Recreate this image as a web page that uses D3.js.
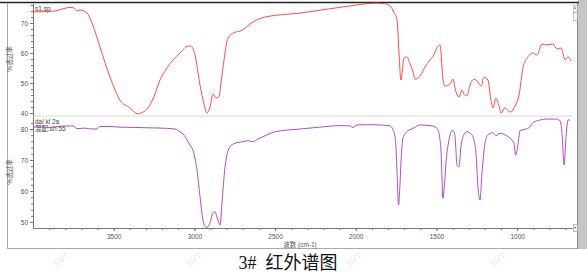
<!DOCTYPE html>
<html>
<head>
<meta charset="utf-8">
<script src="https://cdn.jsdelivr.net/npm/d3@7"></script>
<style>
	body { margin: 0; background: #fff; }
	svg text { font-family: "Liberation Sans", "Noto Sans CJK SC", sans-serif; }
</style>
</head>
<body>
<div id="graph"></div>
<script>

// top spectrum (sample s1.sp), wavenumber cm-1 / %T
const redWn = [4000, 3926, 3864, 3771, 3746, 3727, 3709, 3665, 3628, 3585, 3523, 3461, 3399, 3349, 3318, 3287,
	3250, 3213, 3176, 3132, 3089, 3040, 3021, 2996, 2965, 2940, 2922, 2903, 2885, 2866, 2847, 2835, 2816, 2792,
	2754, 2717, 2686, 2655, 2606, 2562, 2345, 2036, 1881, 1819, 1788, 1763, 1744, 1732, 1720, 1701, 1683, 1664,
	1645, 1633, 1602, 1571, 1540, 1515, 1497, 1478, 1459, 1447, 1416, 1398, 1379, 1360, 1342, 1330, 1311, 1292,
	1267, 1243, 1224, 1205, 1181, 1162, 1150, 1131, 1112, 1100, 1075, 1044, 1026, 1007, 988, 964, 933, 902, 877,
	846, 815, 778, 753, 728, 703, 685, 666]
const redT = [73.7, 73.8, 74.0, 75.2, 75.0, 74.0, 74.3, 73.3, 69, 62, 52, 44.3, 41.7, 39.7, 40.3, 41.7,
	45.5, 51, 54.5, 57.7, 60, 62.3, 62.3, 59.3, 49.3, 43, 40, 42, 46.3, 45, 45.5, 50, 57.7, 65,
	66.8, 67.3, 68.3, 69.7, 71.2, 72, 73.3, 75.7, 76.6, 76.4, 75.7, 73.5, 71, 60, 51, 58.3, 58.7, 56.5,
	53.7, 51.3, 52.3, 55.3, 57.7, 59.5, 61.7, 62.7, 51, 49, 49.7, 51.3, 47, 45.3, 47.7, 46.3, 45.7, 49.3,
	51.3, 50.3, 49, 52, 51, 44.3, 41.7, 45, 42.3, 40, 41.7, 40.3, 41, 43, 46, 55, 58.7, 60, 59.3,
	63, 62.7, 63, 61.3, 61.7, 57.7, 58.7, 57.3]

// bottom spectrum (reference), wavenumber cm-1 / %T
const purpleWn = [4000, 3895, 3833, 3752, 3727, 3678, 3634, 3603, 3585, 3523, 3461, 3368, 3294, 3213, 3120,
	3089, 3064, 3046, 3027, 3009, 2984, 2965, 2947, 2934, 2922, 2903, 2885, 2872, 2860, 2847, 2841, 2829, 2810,
	2779, 2748, 2699, 2668, 2637, 2606, 2575, 2500, 2345, 2222, 2098, 2036, 2017, 1992, 1912, 1850, 1788, 1769,
	1757, 1750, 1744, 1735, 1726, 1720, 1707, 1683, 1645, 1602, 1540, 1509, 1490, 1478, 1472, 1466, 1460, 1450,
	1441, 1422, 1404, 1391, 1385, 1379, 1373, 1360, 1348, 1330, 1311, 1293, 1274, 1255, 1243, 1230, 1218, 1199,
	1181, 1150, 1131, 1106, 1075, 1044, 1019, 1010, 995, 982, 951, 920, 902, 858, 815, 765, 734, 722, 709, 697,
	685, 672]
const purpleT = [80.7, 80.5, 80.9, 81.0, 80.1, 80.3, 80.0, 80.0, 80.8, 80.8, 80.6, 80.5, 80.4, 80.3, 80.0,
	79.1, 78.0, 76.5, 74.8, 73.2, 66.8, 58.2, 50.6, 48.6, 48.2, 49.7, 52.9, 53.3, 51.5, 49.5, 49, 56.1, 67.8,
	74.3, 75.4, 75.9, 76.2, 75.9, 76.8, 77.5, 79.1, 80.0, 80.6, 81.1, 81.0, 80.5, 81.3, 81.4, 81.3, 81.0, 79.7,
	77.5, 73.2, 66, 55.5, 62, 69, 77.1, 79.1, 80.2, 81.3, 81.1, 80.7, 79.7, 76.5, 73.2, 65, 57.6, 62,
	69, 76.5, 79.5, 79.2, 77.5, 73, 68.4, 67.8, 74.3, 78.1, 79.1, 78.7, 77.5, 72.2, 61.4, 57.1, 65.7, 75.4,
	78.1, 78.8, 77.8, 78.6, 78.1, 77.0, 75.4, 71.6, 74.8, 79.5, 79.9, 80.7, 82.0, 82.9, 83.2, 83.2, 82.7, 78.6, 68.4, 77.5,
	82.9, 82.9]

const xTicks = [3500, 3000, 2500, 2000, 1500, 1000]
const topTicks = [40, 50, 60, 70]
const bottomTicks = [50, 60, 70, 80]

const width = 587
	, height = 272
	, left = 33
	, right = 572

let svg = d3.select('#graph').append('svg')
	.attr('width', width)
	.attr('height', height)

let x = d3.scaleLinear().domain([4000, 660]).range([left, right])
	, yTop = d3.scaleLinear().domain([39, 76.67]).range([116, 3])
	, yBot = d3.scaleLinear().domain([48.06, 83.87]).range([228, 117])

// frame
svg.append('rect').attr('x', 578).attr('y', 0).attr('width', 9).attr('height', 249).attr('fill', '#c6c6c6')
svg.append('line').attr('x1', 0).attr('x2', 579).attr('y1', 2.5).attr('y2', 2.5)
	.attr('stroke', '#222').attr('stroke-width', 1.6)
svg.append('line').attr('x1', 7.5).attr('x2', 7.5).attr('y1', 3).attr('y2', 249)
	.attr('stroke', '#aaa')
svg.append('line').attr('x1', 7).attr('x2', 578).attr('y1', 248.5).attr('y2', 248.5)
	.attr('stroke', '#aaa')
svg.append('line').attr('x1', 577.5).attr('x2', 577.5).attr('y1', 3).attr('y2', 249)
	.attr('stroke', '#888')

// panel separator
svg.append('rect').attr('x', left).attr('y', 115).attr('width', right - left).attr('height', 2)
	.attr('fill', '#ececec')

// little scroll buttons
;[[573, 5, 7], [573, 12, 8], [573, 224, 7]].forEach(function (b) {
	svg.append('rect').attr('x', b[0] + .5).attr('y', b[1] + .5).attr('width', 4).attr('height', b[2])
		.attr('fill', '#f4f4f4').attr('stroke', '#999').attr('stroke-width', .6)
})
svg.append('rect').attr('x', 574.5).attr('y', 7.5).attr('width', 1.2).attr('height', 1.2).attr('fill', '#333')
svg.append('rect').attr('x', 574.5).attr('y', 227).attr('width', 1.2).attr('height', 1.2).attr('fill', '#333')

// axes
function styleAxis(g) {
	g.selectAll('path').attr('stroke', '#777')
	g.selectAll('line').attr('stroke', '#777')
	g.selectAll('text').attr('fill', '#555').style('font-size', '6.5px')
}

svg.append('g').attr('transform', 'translate(' + left + ',0)')
	.call(d3.axisLeft(yTop).tickValues(d3.range(40, 77, 2)).tickSize(2).tickFormat('').tickSizeOuter(0))
	.call(styleAxis)
svg.append('g').attr('transform', 'translate(' + left + ',0)')
	.call(d3.axisLeft(yTop).tickValues(topTicks).tickSize(3).tickPadding(2).tickSizeOuter(0))
	.call(styleAxis)

svg.append('g').attr('transform', 'translate(' + left + ',0)')
	.call(d3.axisLeft(yBot).tickValues(d3.range(50, 84, 2)).tickSize(2).tickFormat('').tickSizeOuter(0))
	.call(styleAxis)
svg.append('g').attr('transform', 'translate(' + left + ',0)')
	.call(d3.axisLeft(yBot).tickValues(bottomTicks).tickSize(3).tickPadding(2).tickSizeOuter(0))
	.call(styleAxis)

svg.append('g').attr('transform', 'translate(0,228)')
	.call(d3.axisBottom(x).tickValues(d3.range(700, 4000, 100)).tickSize(2).tickFormat('').tickSizeOuter(0))
	.call(styleAxis)
svg.append('g').attr('transform', 'translate(0,228)')
	.call(d3.axisBottom(x).tickValues(xTicks).tickSize(3).tickPadding(3).tickSizeOuter(0).tickFormat(d3.format('d')))
	.call(styleAxis)

// axis titles
;[59, 172].forEach(function (cy) {
	svg.append('text')
		.attr('transform', 'translate(12,' + cy + ') rotate(-90)')
		.attr('text-anchor', 'middle')
		.attr('fill', '#555')
		.style('font-size', '6.5px')
		.text('%透过率')
})
svg.append('text').attr('x', 300).attr('y', 247).attr('text-anchor', 'middle')
	.attr('fill', '#555').style('font-size', '6.5px').text('波数 (cm-1)')

// spectra labels
svg.append('text').attr('x', 35).attr('y', 11).attr('fill', '#444').style('font-size', '6.5px').text('s1.sp')
svg.append('text').attr('x', 35).attr('y', 124).attr('fill', '#444').style('font-size', '6.5px').text('dal kl 2a')
svg.append('text').attr('x', 35).attr('y', 131).attr('fill', '#444').style('font-size', '6.5px').text('混配.sh.55')

// spectra
let lineTop = d3.line()
	.x(function (d, i) { return x(redWn[i]) })
	.y(function (d) { return yTop(d) })
	.curve(d3.curveMonotoneX)
let lineBot = d3.line()
	.x(function (d, i) { return x(purpleWn[i]) })
	.y(function (d) { return yBot(d) })
	.curve(d3.curveMonotoneX)

svg.append('path').attr('d', lineTop(redT))
	.attr('fill', 'none').attr('stroke', '#ff4a4a').attr('stroke-width', 1)
svg.append('path').attr('d', lineBot(purpleT))
	.attr('fill', 'none').attr('stroke', '#b24cc2').attr('stroke-width', 1)

// faint watermarks
;[63, 196, 356, 500].forEach(function (wx) {
	svg.append('text')
		.attr('transform', 'translate(' + wx + ',262) rotate(-40)')
		.attr('text-anchor', 'middle')
		.attr('fill', '#efe4e4')
		.style('font-size', '9px')
		.text('SVT')
})

// caption
svg.append('text').attr('x', 288).attr('y', 269).attr('text-anchor', 'middle')
	.attr('fill', '#111')
	.style('font-family', '"Liberation Serif", "Noto Sans CJK SC", serif')
	.style('font-size', '18px')
	.style('white-space', 'pre')
	.text('3#  红外谱图')

</script>
</body>
</html>
